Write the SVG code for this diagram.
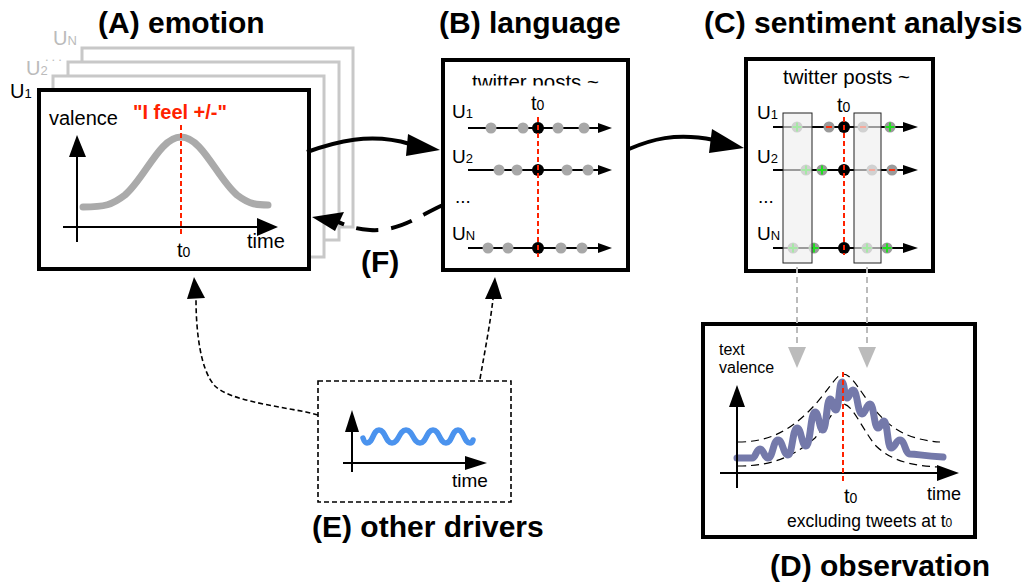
<svg xmlns="http://www.w3.org/2000/svg" width="1032" height="583" viewBox="0 0 1032 583">
<style>
text{font-family:"Liberation Sans",Arial,sans-serif;fill:#000}
.title{font-size:30px;font-weight:bold}
.box{fill:#fff;stroke:#000;stroke-width:4}
.card{fill:#fff;stroke:#c8c8c8;stroke-width:3}
.axis{stroke:#000;stroke-width:2;fill:none}
.tl{stroke:#000;stroke-width:2;fill:none}
.red{stroke:#ff2200;stroke-width:2;stroke-dasharray:5 3;fill:none}
.gd{fill:#a8a8a8}
.bd{fill:#000}
.cd{fill:#9a9a9a}
.plus{stroke:#22dd22;stroke-width:2}
.minus{stroke:#ff3311;stroke-width:2}
.lbl{font-size:19px}
.sub{font-size:13px}
.shade{fill:#eeeeee;fill-opacity:0.65;stroke:#222;stroke-width:1}
</style>
<defs>
<clipPath id="clipB"><rect x="445" y="62" width="181" height="23.5"/></clipPath>
</defs>

<g id="nodeA">
  <text class="title" x="98" y="33">(A) emotion</text>
  <rect class="card" x="82" y="48" width="271" height="179"/>
  <rect class="card" x="68" y="62" width="271" height="178"/>
  <rect class="card" x="53" y="76" width="271" height="181"/>
  <text x="53" y="45" font-size="20" style="fill:#bbb">U<tspan font-size="13">N</tspan></text>
  <text x="45" y="61" font-size="13" letter-spacing="3" style="fill:#bbb">...</text>
  <text x="26" y="75" font-size="20" style="fill:#bbb">U<tspan font-size="13">2</tspan></text>
  <text x="10" y="98" font-size="20">U<tspan font-size="13">1</tspan></text>
  <rect class="box" x="39" y="90" width="270" height="179"/>
  <text x="49" y="125" font-size="20">valence</text>
  <text x="133" y="119" font-size="20" font-weight="bold" style="fill:#ff2200">"I feel +/-"</text>
  <path d="M83,207 C105,207 112,205 125,195 C145,178 160,137 181,137 C202,137 217,178 237,195 C250,205 258,205 268,205" fill="none" stroke="#aaa" stroke-width="7" stroke-linecap="round"/>
  <line class="axis" x1="77" y1="242" x2="77" y2="155"/>
  <polygon points="69,157 86,157 77,135" fill="#000"/>
  <line class="axis" x1="63" y1="227" x2="259" y2="227"/>
  <polygon points="257,218 257,236 278,227" fill="#000"/>
  <line class="red" x1="181" y1="125" x2="181" y2="236"/>
  <text x="177" y="257" font-size="20">t<tspan font-size="14">0</tspan></text>
  <text x="247" y="248" font-size="20">time</text>
</g>

<g id="nodeB">
  <text class="title" x="439" y="33">(B) language</text>
  <rect class="box" x="443" y="60" width="185" height="210"/>
  <text x="472" y="89" font-size="20.5" clip-path="url(#clipB)">twitter posts ~</text>
  <text x="531" y="110" font-size="20">t<tspan font-size="14">0</tspan></text>
  <text class="lbl" x="452" y="118">U<tspan class="sub">1</tspan></text>
  <text class="lbl" x="452" y="163">U<tspan class="sub">2</tspan></text>
  <text class="lbl" x="455" y="203">...</text>
  <text class="lbl" x="452" y="240">U<tspan class="sub">N</tspan></text>
  <line class="tl" x1="468" y1="128" x2="600" y2="128"/>
  <polygon points="598,123 612,128 598,133" fill="#000"/>
  <line class="tl" x1="468" y1="170" x2="600" y2="170"/>
  <polygon points="598,165 612,170 598,175" fill="#000"/>
  <line class="tl" x1="468" y1="248" x2="600" y2="248"/>
  <polygon points="598,243 612,248 598,253" fill="#000"/>
  <circle class="gd" cx="491" cy="128" r="5.5"/><circle class="gd" cx="523" cy="128" r="5.5"/>
  <circle class="bd" cx="538" cy="128" r="6"/><circle class="gd" cx="558" cy="128" r="5.5"/><circle class="gd" cx="584" cy="128" r="5.5"/>
  <circle class="gd" cx="499" cy="170" r="5.5"/><circle class="gd" cx="517" cy="170" r="5.5"/>
  <circle class="bd" cx="538" cy="170" r="6"/><circle class="gd" cx="567" cy="170" r="5.5"/><circle class="gd" cx="588" cy="170" r="5.5"/>
  <circle class="gd" cx="488" cy="248" r="5.5"/><circle class="gd" cx="508" cy="248" r="5.5"/>
  <circle class="bd" cx="538" cy="248" r="6"/><circle class="gd" cx="561" cy="248" r="5.5"/><circle class="gd" cx="582" cy="248" r="5.5"/>
  <line class="red" x1="538" y1="117" x2="538" y2="257"/>
</g>

<g id="nodeC">
  <text class="title" x="704" y="33">(C) sentiment analysis</text>
  <rect class="box" x="746" y="59" width="187" height="212"/>
  <text x="783" y="83.5" font-size="20.5">twitter posts ~</text>
  <text x="837" y="112" font-size="20">t<tspan font-size="14">0</tspan></text>
  <text class="lbl" x="757" y="119">U<tspan class="sub">1</tspan></text>
  <text class="lbl" x="757" y="163">U<tspan class="sub">2</tspan></text>
  <text class="lbl" x="758" y="203">...</text>
  <text class="lbl" x="757" y="240">U<tspan class="sub">N</tspan></text>
  <line class="tl" x1="773" y1="127" x2="905" y2="127"/>
  <polygon points="903,122 918,127 903,132" fill="#000"/>
  <line class="tl" x1="773" y1="170" x2="905" y2="170"/>
  <polygon points="903,165 918,170 903,175" fill="#000"/>
  <line class="tl" x1="773" y1="248" x2="905" y2="248"/>
  <polygon points="903,243 918,248 903,253" fill="#000"/>
  <circle class="cd" cx="797" cy="127" r="5.5"/><line class="plus" x1="792.5" y1="127" x2="801.5" y2="127"/><line class="plus" x1="797" y1="122.5" x2="797" y2="131.5"/>
  <circle class="cd" cx="829" cy="127" r="5.5"/><line class="minus" x1="826" y1="127" x2="832" y2="127"/>
  <circle class="bd" cx="844" cy="127" r="6"/>
  <circle class="cd" cx="863" cy="127" r="5.5"/><line class="minus" x1="860" y1="127" x2="866" y2="127"/>
  <circle class="cd" cx="890" cy="127" r="5.5"/><line class="plus" x1="885.5" y1="127" x2="894.5" y2="127"/><line class="plus" x1="890" y1="122.5" x2="890" y2="131.5"/>
  <circle class="cd" cx="806" cy="170" r="5.5"/><line class="plus" x1="801.5" y1="170" x2="810.5" y2="170"/><line class="plus" x1="806" y1="165.5" x2="806" y2="174.5"/>
  <circle class="cd" cx="822" cy="170" r="5.5"/><line class="plus" x1="817.5" y1="170" x2="826.5" y2="170"/><line class="plus" x1="822" y1="165.5" x2="822" y2="174.5"/>
  <circle class="bd" cx="844" cy="170" r="6"/>
  <circle class="cd" cx="872" cy="170" r="5.5"/><line class="minus" x1="869" y1="170" x2="875" y2="170"/>
  <circle class="cd" cx="892" cy="170" r="5.5"/><line class="minus" x1="889" y1="170" x2="895" y2="170"/>
  <circle class="cd" cx="793" cy="248" r="5.5"/><line class="plus" x1="788.5" y1="248" x2="797.5" y2="248"/><line class="plus" x1="793" y1="243.5" x2="793" y2="252.5"/>
  <circle class="cd" cx="814" cy="248" r="5.5"/><line class="plus" x1="809.5" y1="248" x2="818.5" y2="248"/><line class="plus" x1="814" y1="243.5" x2="814" y2="252.5"/>
  <circle class="bd" cx="844" cy="248" r="6"/>
  <circle class="cd" cx="867" cy="248" r="5.5"/><line class="plus" x1="862.5" y1="248" x2="871.5" y2="248"/><line class="plus" x1="867" y1="243.5" x2="867" y2="252.5"/>
  <circle class="cd" cx="887" cy="248" r="5.5"/><line class="plus" x1="882.5" y1="248" x2="891.5" y2="248"/><line class="plus" x1="887" y1="243.5" x2="887" y2="252.5"/>
  <rect class="shade" x="783" y="113" width="29" height="150"/>
  <rect class="shade" x="854" y="113" width="27" height="150"/>
  <line class="red" x1="844" y1="117" x2="844" y2="255"/>
</g>

<g id="nodeD">
  <rect class="box" x="703" y="324" width="272" height="213"/>
  <text x="719" y="355" font-size="16">text</text>
  <text x="719" y="373" font-size="16">valence</text>
  <path d="M738,442 C770,442 790,430 810,410 C828,392 836,374 843,374 C852,374 860,392 875,410 C892,430 910,440 940,442" fill="none" stroke="#000" stroke-width="1.2" stroke-dasharray="8 5"/>
  <path d="M738,466 C775,466 795,455 815,438 C830,420 836,404 843,404 C852,404 860,425 875,445 C890,460 910,466 940,467" fill="none" stroke="#000" stroke-width="1.2" stroke-dasharray="8 5"/>
  <path d="M737,458 L752,458 C756,458 756,449 760,449 C764,449 764,458 768,458 C773,458 773,440 778,440 C783,440 783,455 788,455 C792.5,455 792.5,428 797,428 C801.5,428 801.5,446 806,446 C810.5,446 810.5,412 815,412 C819,412 819,430 823,430 C826.5,430 826.5,399 830,399 C833,399 833,410 836,410 C839,410 839,382 842,382 C844.5,382 844.5,398 847,398 C850,398 850,390 853,390 C857.5,390 857.5,414 862,414 C866,414 866,404 870,404 C874,404 874,428 878,428 C881,428 881,421 884,421 C887.5,421 887.5,448 891,448 C895.5,448 895.5,440 900,440 C905,440 905,454 910,454 C918,454 922,456 943,457" fill="none" stroke="#7479aa" stroke-width="7" stroke-linecap="round" stroke-linejoin="round"/>
  <line class="axis" x1="737" y1="488" x2="737" y2="405"/>
  <polygon points="729,407 745,407 737,385" fill="#000"/>
  <line class="axis" x1="720" y1="473" x2="939" y2="473"/>
  <polygon points="937,465 937,481 959,473" fill="#000"/>
  <line class="red" x1="843" y1="372" x2="843" y2="482"/>
  <text x="844" y="503" font-size="20">t<tspan font-size="14">0</tspan></text>
  <text x="927" y="500" font-size="18">time</text>
  <text x="787" y="527" font-size="17.5">excluding tweets at t<tspan font-size="12">0</tspan></text>
  <text class="title" x="770" y="576">(D) observation</text>
</g>

<g id="nodeE">
  <rect x="318" y="381" width="193" height="121" fill="#fff" stroke="#000" stroke-width="1.6" stroke-dasharray="5 3"/>
  <path d="M363,438 C364,441 365,443 367,443 C373,443 373,430 379,430 C385.5,430 385.5,443 392,443 C399,443 399,430 406,430 C413,430 413,443 420,443 C426.5,443 426.5,430 433,430 C439.5,430 439.5,443 446,443 C452,443 452,430 458,430 C464,430 464,443 470,443 C471.5,443 472.5,442 473,440" fill="none" stroke="#4b93ee" stroke-width="5.5" stroke-linecap="round"/>
  <line class="axis" x1="352" y1="472" x2="352" y2="430"/>
  <polygon points="345,432 359,432 352,410" fill="#000"/>
  <line class="axis" x1="343" y1="463" x2="467" y2="463"/>
  <polygon points="465,456 465,470 487,463" fill="#000"/>
  <text x="452" y="487" font-size="19">time</text>
  <text class="title" x="312" y="537">(E) other drivers</text>
</g>

<g id="labelF">
  <text class="title" x="361" y="272">(F)</text>
</g>

<g id="connectors">
  <path d="M307,152 C335,142 370,132 410,144" fill="none" stroke="#000" stroke-width="4"/>
  <polygon points="440,150 408,134 406,156" fill="#000"/>
  <path d="M629,149 C650,140 675,132 714,140" fill="none" stroke="#000" stroke-width="4"/>
  <polygon points="744,148 712,129 709,153" fill="#000"/>
  <path d="M443,205 C420,215 400,232 370,230 C355,229 348,226 338,222" fill="none" stroke="#000" stroke-width="4" stroke-dasharray="22 13"/>
  <polygon points="312,217 344,212 335,231" fill="#000"/>
  <path d="M318,415 L306,412 C270,405 230,400 215,386 C200,370 196,330 196,299" fill="none" stroke="#000" stroke-width="1.6" stroke-dasharray="5 3"/>
  <polygon points="194,277 187,299 205,298" fill="#000"/>
  <path d="M480,379 C485,350 490,325 493,299" fill="none" stroke="#000" stroke-width="1.6" stroke-dasharray="5 3"/>
  <polygon points="495,277 485,299 502,299" fill="#000"/>
  <line x1="797" y1="267" x2="797" y2="348" stroke="#bbb" stroke-width="2" stroke-dasharray="6 4"/>
  <polygon points="788,347 806,347 797,368" fill="#bbb"/>
  <line x1="867" y1="267" x2="867" y2="348" stroke="#bbb" stroke-width="2" stroke-dasharray="6 4"/>
  <polygon points="858,347 876,347 867,368" fill="#bbb"/>
</g>
</svg>
